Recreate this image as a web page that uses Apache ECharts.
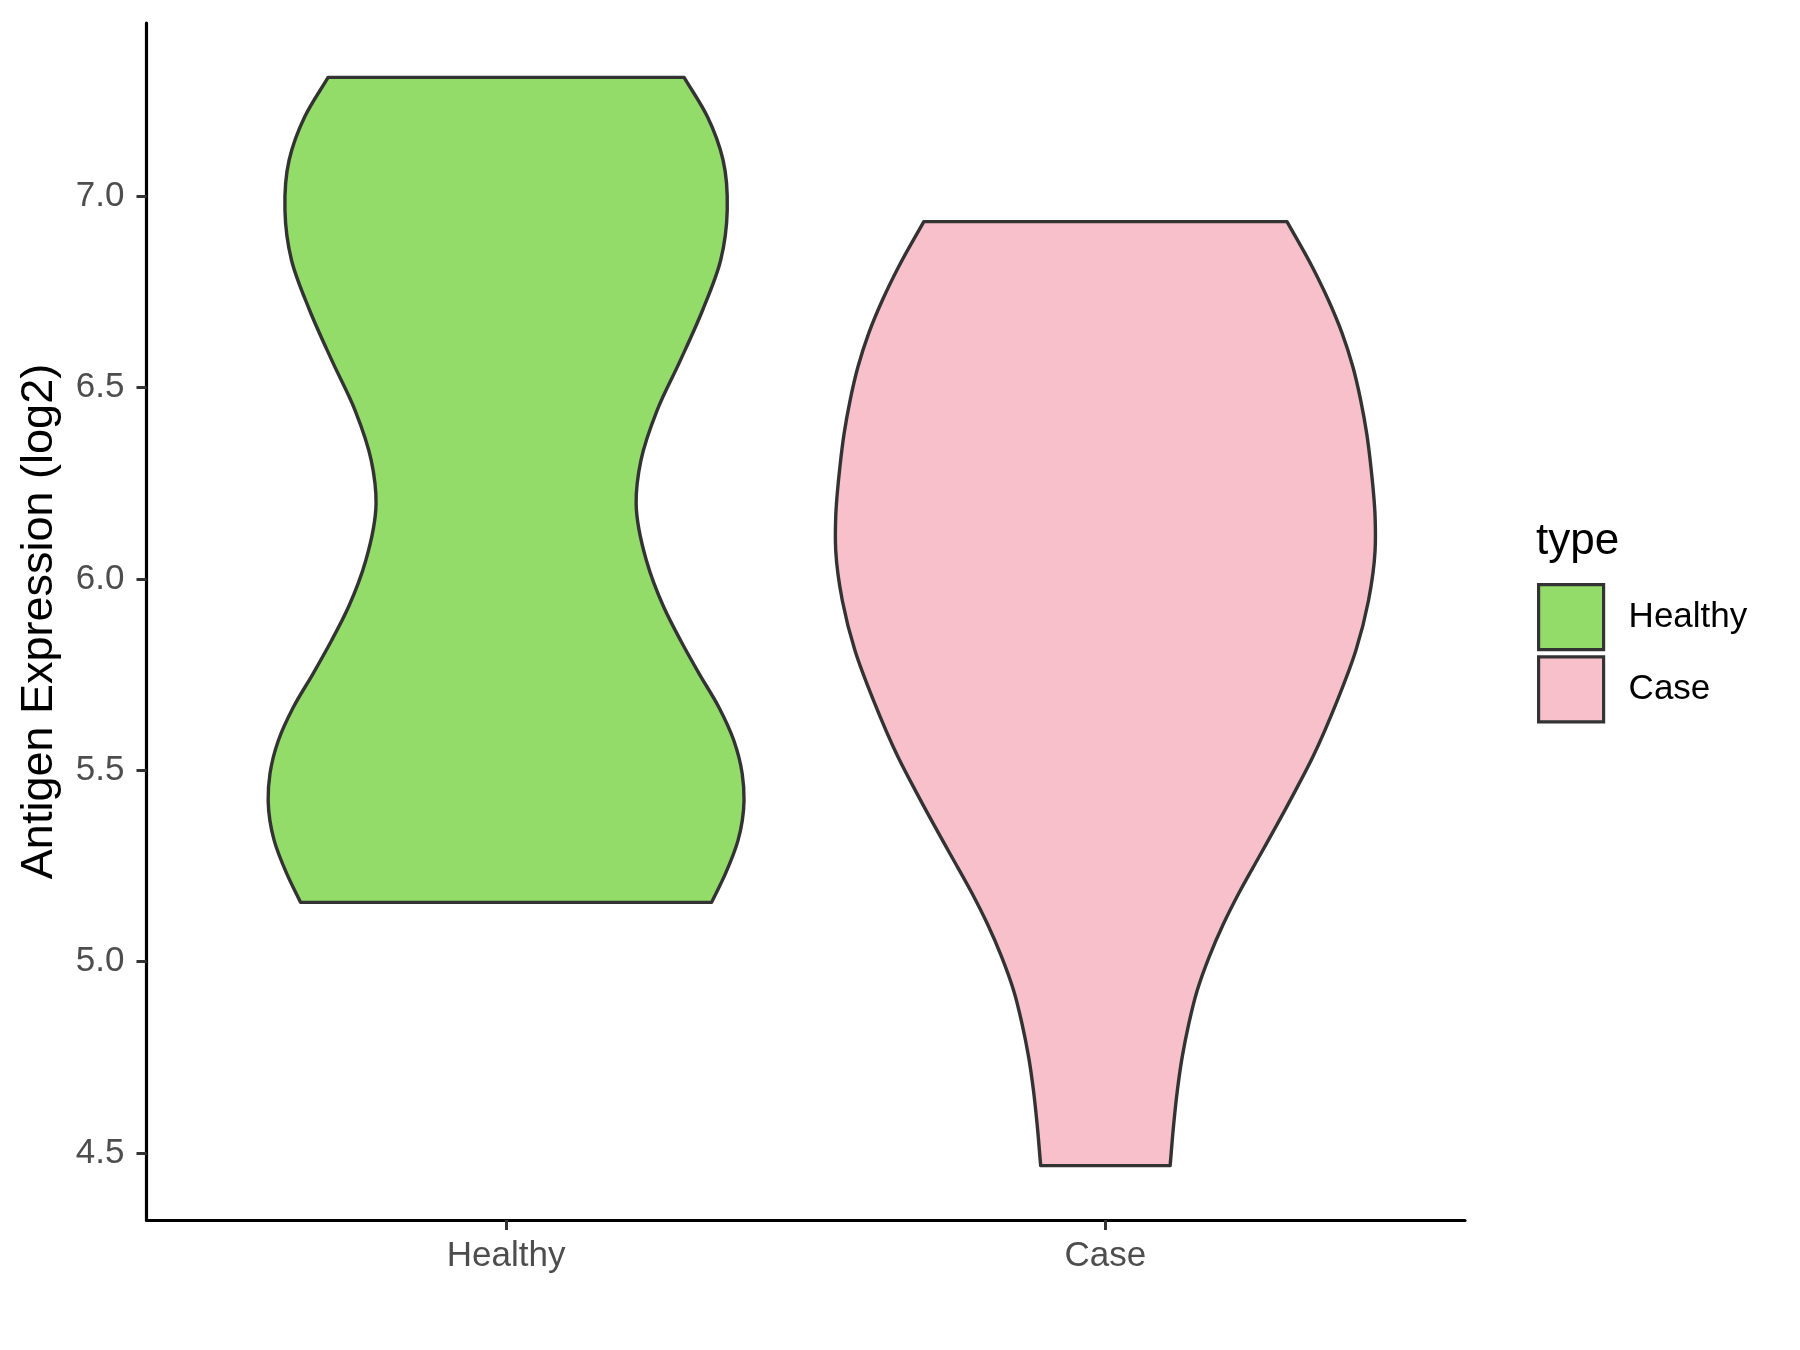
<!DOCTYPE html>
<html>
<head>
<meta charset="utf-8">
<script src="https://cdn.jsdelivr.net/npm/echarts@6/dist/echarts.min.js"></script>
<style>
html,body{margin:0;padding:0;background:#fff;}
#chart{width:1800px;height:1350px;}
</style>
</head>
<body>
<div id="chart"></div>
<script>
// ---- data ----
const categories = ['Healthy', 'Case'];
const yTicks = [4.5, 5.0, 5.5, 6.0, 6.5, 7.0];

// violin profile: expression value and half-width (in category units)
const healthyY  = [7.311, 7.208, 7.095, 6.964, 6.833, 6.703, 6.572, 6.441, 6.310, 6.197, 6.049, 5.927, 5.840, 5.753, 5.665, 5.578, 5.491, 5.421, 5.317, 5.230, 5.155];
const healthyHW = [0.297, 0.336, 0.362, 0.369, 0.358, 0.328, 0.291, 0.252, 0.225, 0.217, 0.234, 0.263, 0.291, 0.322, 0.355, 0.380, 0.394, 0.397, 0.387, 0.366, 0.343];

const caseY  = [6.934, 6.816, 6.729, 6.642, 6.554, 6.467, 6.380, 6.293, 6.162, 6.075, 5.944, 5.814, 5.683, 5.535, 5.447, 5.360, 5.273, 5.186, 5.099, 5.012, 4.924, 4.837, 4.750, 4.663, 4.576, 4.467];
const caseHW = [0.303, 0.345, 0.372, 0.395, 0.413, 0.426, 0.436, 0.443, 0.450, 0.450, 0.439, 0.418, 0.387, 0.346, 0.317, 0.287, 0.256, 0.225, 0.197, 0.173, 0.153, 0.139, 0.128, 0.120, 0.114, 0.108];

const colors = { Healthy: '#93DC6A', Case: '#F7C0CB' };
const FONT = '"Liberation Sans", Arial, Helvetica, sans-serif';

// smooth Hermite curve of half-width as a function of value, as bezier segments (data space)
function profileSegments(ys, hws) {
  const n = ys.length;
  const s = [], m = [];
  for (let i = 0; i < n - 1; i++) s.push((hws[i + 1] - hws[i]) / (ys[i + 1] - ys[i]));
  for (let i = 0; i < n; i++) {
    if (i === 0) m.push(s[0]);
    else if (i === n - 1) m.push(s[n - 2]);
    else {
      const h0 = ys[i] - ys[i - 1], h1 = ys[i + 1] - ys[i];
      m.push((s[i - 1] * h1 + s[i] * h0) / (h0 + h1));
    }
  }
  const segs = [];
  for (let i = 0; i < n - 1; i++) {
    const dy = ys[i + 1] - ys[i];
    segs.push([
      [hws[i] + m[i] * dy / 3, ys[i] + dy / 3],
      [hws[i + 1] - m[i + 1] * dy / 3, ys[i + 1] - dy / 3],
      [hws[i + 1], ys[i + 1]]
    ]);
  }
  return segs;
}

function violinSeries(name, pos, ys, hws) {
  return {
    name: name,
    type: 'custom',
    coordinateSystem: 'cartesian2d',
    itemStyle: { color: colors[name], borderColor: '#333333', borderWidth: 3 },
    data: ys.map((y, i) => [pos, y, hws[i]]),
    encode: { x: 0, y: 1 },
    renderItem: function (params, api) {
      if (params.dataIndex !== 0) return { type: 'group', children: [] };
      const segs = profileSegments(ys, hws);
      const P = (hw, y, side) => api.coord([pos + side * hw, y]);
      let p = P(hws[0], ys[0], -1);
      let d = 'M' + p[0] + ',' + p[1];
      segs.forEach(sg => {
        const a = P(sg[0][0], sg[0][1], -1), b = P(sg[1][0], sg[1][1], -1), c = P(sg[2][0], sg[2][1], -1);
        d += 'C' + a[0] + ',' + a[1] + ' ' + b[0] + ',' + b[1] + ' ' + c[0] + ',' + c[1];
      });
      const n = ys.length;
      p = P(hws[n - 1], ys[n - 1], 1);
      d += 'L' + p[0] + ',' + p[1];
      for (let i = segs.length - 1; i >= 0; i--) {
        const sg = segs[i];
        const a = P(sg[1][0], sg[1][1], 1), b = P(sg[0][0], sg[0][1], 1), c = P(hws[i], ys[i], 1);
        d += 'C' + a[0] + ',' + a[1] + ' ' + b[0] + ',' + b[1] + ' ' + c[0] + ',' + c[1];
      }
      d += 'Z';
      return {
        type: 'path',
        shape: { pathData: d },
        style: { fill: colors[name], stroke: '#333333', lineWidth: 3.4, lineJoin: 'round' }
      };
    }
  };
}

const chart = echarts.init(document.getElementById('chart'));
chart.setOption({
  animation: false,
  backgroundColor: '#ffffff',
  grid: { left: 146.5, right: 335, top: 23, bottom: 130, containLabel: false },
  xAxis: {
    type: 'value',
    min: 0.4, max: 2.6,
    splitLine: { show: false },
    axisLine: { show: true, onZero: false, lineStyle: { color: '#000000', width: 3.2 } },
    axisTick: { show: true, customValues: [1, 2], length: 10, lineStyle: { color: '#333333', width: 3 } },
    axisLabel: {
      show: true, customValues: [1, 2], margin: 19,
      color: '#4D4D4D', fontSize: 35, fontFamily: FONT,
      formatter: v => categories[Math.round(v) - 1]
    }
  },
  yAxis: {
    type: 'value',
    min: 4.325, max: 7.453,
    name: 'Antigen Expression (log2)',
    nameLocation: 'middle',
    nameGap: 84,
    nameRotate: 90,
    nameTextStyle: { color: '#000000', fontSize: 45, fontFamily: FONT },
    splitLine: { show: false },
    axisLine: { show: true, onZero: false, lineStyle: { color: '#000000', width: 3.2 } },
    axisTick: { show: true, customValues: yTicks, length: 10, lineStyle: { color: '#333333', width: 3 } },
    axisLabel: {
      show: true, customValues: yTicks, margin: 22,
      color: '#4D4D4D', fontSize: 35, fontFamily: FONT,
      formatter: v => v.toFixed(1)
    }
  },
  legend: {
    orient: 'vertical',
    left: 1532,
    top: 578,
    itemWidth: 65,
    itemHeight: 65,
    itemGap: 4,
    icon: 'rect',
    itemStyle: { borderColor: '#333333', borderWidth: 3.2 },
    textStyle: { color: '#000000', fontSize: 35, fontFamily: FONT, padding: [10, 0, 0, 20] },
    data: categories
  },
  graphic: [{
    type: 'text',
    left: 1536,
    top: 520,
    style: { text: 'type', fill: '#000000', font: '44px ' + FONT }
  }],
  series: [
    violinSeries('Healthy', 1, healthyY, healthyHW),
    violinSeries('Case', 2, caseY, caseHW)
  ]
});
</script>
</body>
</html>
